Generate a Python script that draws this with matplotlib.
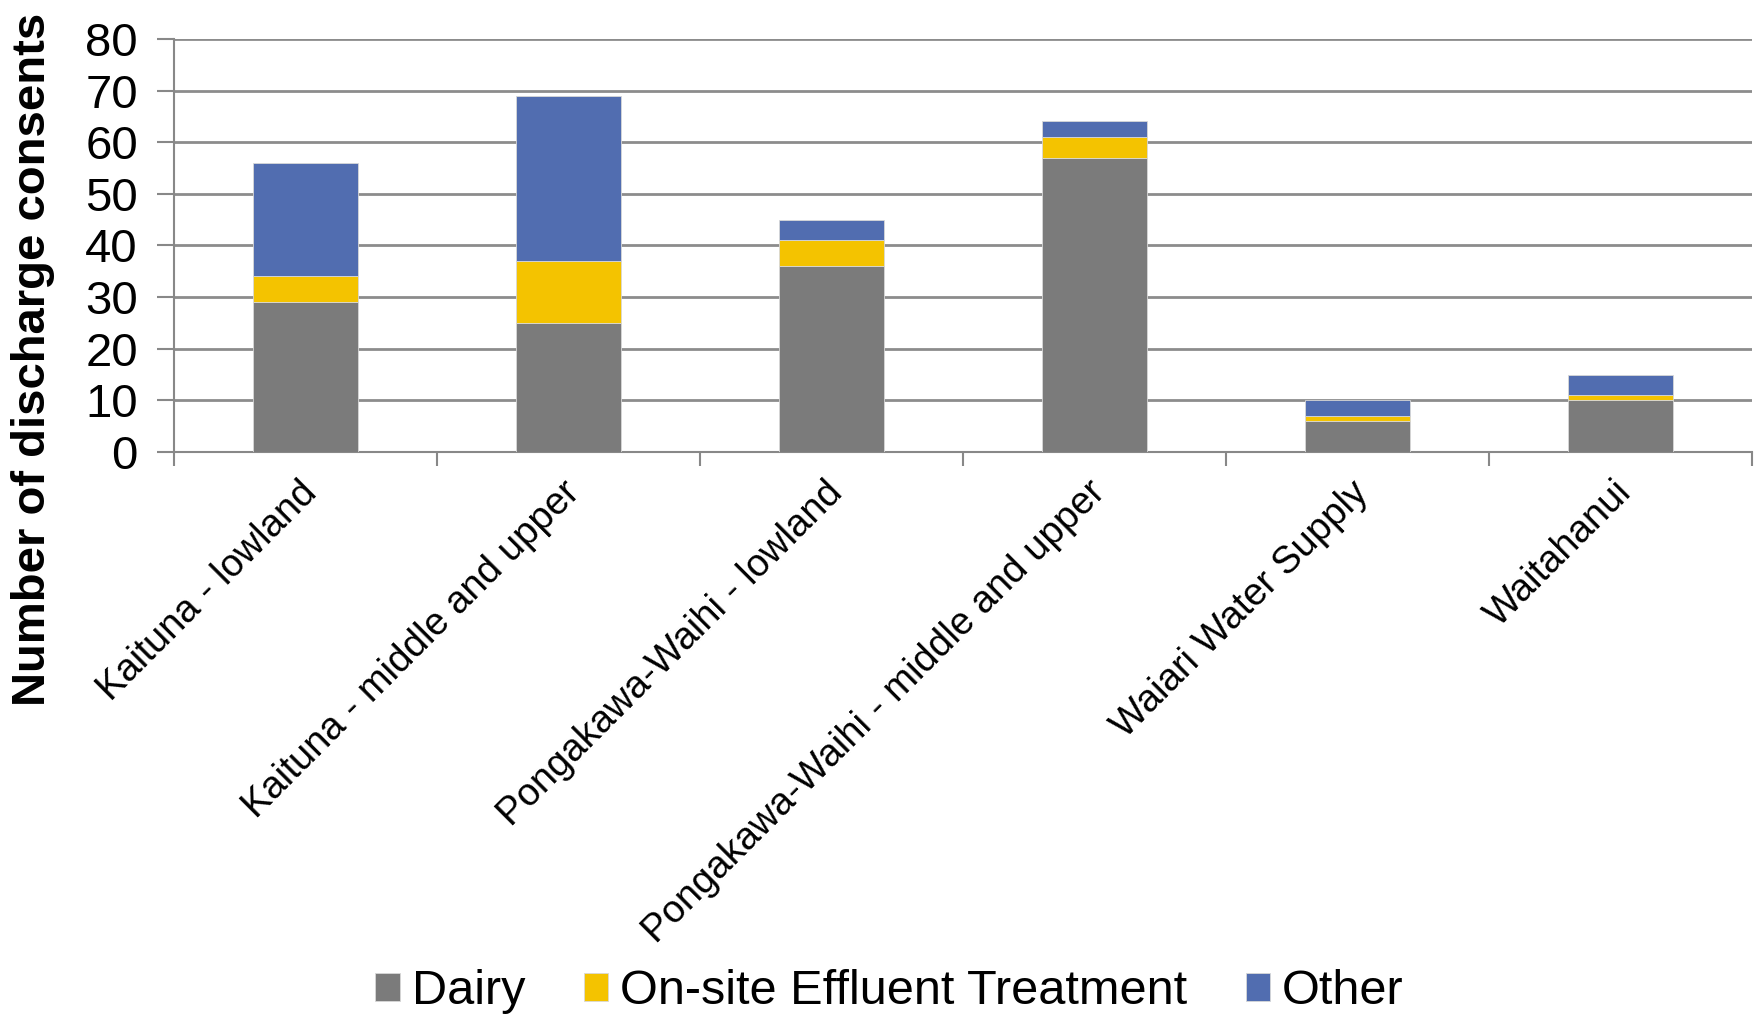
import matplotlib.pyplot as plt
import matplotlib.transforms as mtransforms
import numpy as np

plt.rcParams['font.family'] = ['Liberation Sans', 'DejaVu Sans']

catchments = [
    "Kaituna - lowland",
    "Kaituna - middle and upper",
    "Pongakawa-Waihi - lowland",
    "Pongakawa-Waihi - middle and upper",
    "Waiari Water Supply",
    "Waitahanui",
]
dairy = [29, 25, 36, 57, 6, 10]
effluent = [5, 12, 5, 4, 1, 1]
other = [22, 32, 4, 3, 3, 4]

series = [
    ("Dairy", dairy, "#7b7b7b"),
    ("On-site Effluent Treatment", effluent, "#f4c300"),
    ("Other", other, "#516db0"),
]

fig = plt.figure(figsize=(17.58, 10.15), dpi=100)
ax = fig.add_axes([0.099, 0.5547, 0.8976, 0.407])

x = np.arange(len(catchments))
bottom = np.zeros(len(catchments))
for name, vals, col in series:
    ax.bar(x, vals, 0.4, bottom=bottom, color=col, label=name,
           edgecolor="#d8d8d8", linewidth=0.6, zorder=3)
    bottom += np.array(vals)

ax.set_xlim(-0.5, len(catchments) - 0.5)
ax.set_ylim(0, 80)
ax.set_yticks(range(0, 81, 10))
ax.tick_params(axis='y', labelsize=34, length=12, width=1.5, color="#888888", pad=14)
ax.yaxis.grid(True, color="#8c8c8c", linewidth=2)
ax.set_axisbelow(True)

ax.set_xticks(x)
ax.set_xticklabels(catchments, rotation=45, ha='right', rotation_mode='anchor', fontsize=27.5)
ax.tick_params(axis='x', length=0, pad=14)
ax.set_xticks(np.arange(-0.5, len(catchments)), minor=True)
ax.tick_params(axis='x', which='minor', length=10, width=1.5, color="#888888")

# nudge the rotated category labels slightly left and down
shift = mtransforms.ScaledTranslation(-7 / 100, -3 / 100, fig.dpi_scale_trans)
for lbl in ax.get_xticklabels():
    lbl.set_transform(lbl.get_transform() + shift)

for s in ['top', 'right']:
    ax.spines[s].set_visible(False)
for s in ['left', 'bottom']:
    ax.spines[s].set_color("#888888")
    ax.spines[s].set_linewidth(1.5)

fig.text(0.019, 0.646, "Number of discharge consents", rotation=90,
         fontsize=34, fontweight='bold', ha='center', va='center')

fig.legend(loc='center', bbox_to_anchor=(0.506, 0.023), ncol=3, frameon=False,
           fontsize=35, handlelength=0.5, handleheight=0.5, handletextpad=0.25,
           columnspacing=1.2)

fig.savefig("out.png", dpi=100)
